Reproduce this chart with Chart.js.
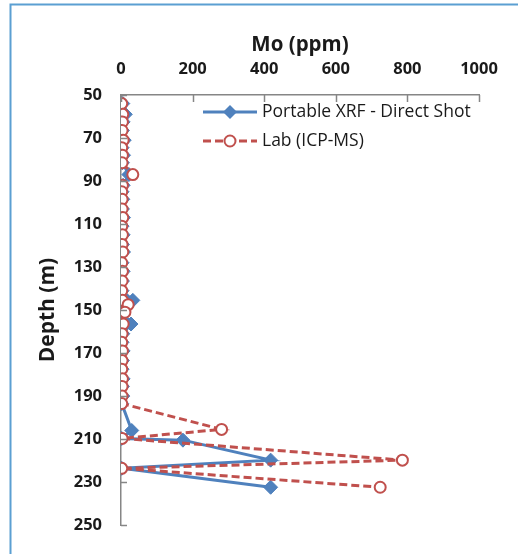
<!DOCTYPE html>
<html>
<head>
<meta charset="utf-8">
<script src="https://cdn.jsdelivr.net/npm/chart.js@4.4.1/dist/chart.umd.min.js"></script>
<style>
  html, body { margin: 0; padding: 0; background: #ffffff; }
  #wrap { position: relative; width: 518px; height: 554px; }
  canvas { display: block; }
</style>
</head>
<body>
<div id="wrap"><canvas id="c" width="518" height="554"></canvas></div>
<script>
// ---- Data ----
const xrfDepth = [54, 59, 62.5, 66.5, 71, 74.5, 78, 81.5, 87, 92, 95, 98.5, 103, 107, 111, 115, 119.5, 123, 128, 132, 136.5, 141, 145.5, 147.5, 151, 156.5, 161, 165, 169, 173.5, 177.5, 182, 185.5, 190, 193.5, 206, 209.7, 210.5, 219.8, 223.6, 232.4];
const xrfMo    = [5, 12, 6, 4, 9, 3, 7, 4, 22, 6, 3, 5, 4, 7, 3, 6, 4, 7, 3, 6, 4, 3, 33, 10, 6, 28, 5, 3, 6, 4, 3, 6, 4, 5, 2, 30, 2, 173, 418, 2, 418];
const labDepth = [54, 59, 62.5, 66.5, 71, 74.5, 78, 81.5, 87, 92, 95, 98.5, 103, 107, 111, 115, 119.5, 123, 128, 132, 136.5, 141, 145.5, 147.5, 151, 156.5, 161, 165, 169, 173.5, 177.5, 182, 185.5, 190, 193.5, 205.5, 209.7, 219.8, 223.6, 232.4];
const labMo    = [2, 5, 4, 3, 6, 2, 4, 3, 33, 4, 2, 3, 3, 5, 2, 4, 3, 5, 2, 4, 3, 2, 4, 20, 11, 6, 3, 2, 4, 3, 2, 4, 3, 3, 2, 281, 3, 786, 2, 724];
const seriesNames = ['Portable XRF - Direct Shot', 'Lab (ICP-MS)'];
const xTicks = [0, 200, 400, 600, 800, 1000];
const yTicks = [50, 70, 90, 110, 130, 150, 170, 190, 210, 230, 250];
const xTitle = 'Mo (ppm)';
const yTitle = 'Depth (m)';

const BLUE = '#4f81bd';
const RED = '#c0504d';
const AXIS = '#868686';
const TEXT = '#1a1a1a';
const FONT = "'Open Sans', 'DejaVu Sans', sans-serif";

const toPts = (xs, ys) => xs.map((v, i) => ({ x: v, y: ys[i] }));

const framePlugin = {
  id: 'frame',
  beforeDraw(chart) {
    const ctx = chart.ctx;
    ctx.save();
    ctx.fillStyle = '#ffffff';
    ctx.fillRect(0, 0, chart.width, chart.height);
    ctx.strokeStyle = '#5b9fd2';
    ctx.lineWidth = 2;
    ctx.beginPath();
    ctx.moveTo(10.5, chart.height);
    ctx.lineTo(10.5, 4.5);
    ctx.lineTo(chart.width, 4.5);
    ctx.stroke();
    ctx.restore();
  }
};

const inwardTicks = {
  id: 'inwardTicks',
  afterDraw(chart) {
    const ctx = chart.ctx;
    const xs = chart.scales.x, ys = chart.scales.y;
    const a = chart.chartArea;
    ctx.save();
    ctx.strokeStyle = AXIS;
    ctx.lineWidth = 1.5;
    ctx.beginPath();
    xTicks.forEach(v => {
      const px = Math.round(xs.getPixelForValue(v)) + 0.5;
      ctx.moveTo(px, a.top);
      ctx.lineTo(px, a.top + 7);
    });
    yTicks.forEach(v => {
      const py = Math.round(ys.getPixelForValue(v)) + 0.5;
      ctx.moveTo(a.left, py);
      ctx.lineTo(a.left + 6, py);
    });
    ctx.stroke();
    ctx.restore();
  }
};

const legendPlugin = {
  id: 'customLegend',
  afterDraw(chart) {
    const ctx = chart.ctx;
    ctx.save();
    const x0 = 203, x1 = 257, tx = 262;
    const rows = [112, 141];
    const cx = (x0 + x1) / 2, r = 7;
    // XRF
    ctx.strokeStyle = BLUE; ctx.lineWidth = 3; ctx.setLineDash([]);
    ctx.beginPath(); ctx.moveTo(x0, rows[0]); ctx.lineTo(x1, rows[0]); ctx.stroke();
    ctx.fillStyle = BLUE;
    ctx.beginPath();
    ctx.moveTo(cx, rows[0] - r); ctx.lineTo(cx + r, rows[0]); ctx.lineTo(cx, rows[0] + r); ctx.lineTo(cx - r, rows[0]); ctx.closePath(); ctx.fill();
    // Lab
    ctx.strokeStyle = RED; ctx.lineWidth = 3; ctx.setLineDash([8, 4]);
    ctx.beginPath(); ctx.moveTo(x0, rows[1]); ctx.lineTo(x1, rows[1]); ctx.stroke();
    ctx.setLineDash([]);
    ctx.fillStyle = '#ffffff'; ctx.lineWidth = 2;
    ctx.beginPath(); ctx.arc(cx, rows[1], 5.5, 0, Math.PI * 2); ctx.fill(); ctx.stroke();
    // text
    ctx.fillStyle = TEXT;
    ctx.font = "17.5px " + FONT;
    ctx.textBaseline = 'middle';
    ctx.textAlign = 'left';
    ctx.fillText(seriesNames[0], tx, rows[0]);
    ctx.fillText(seriesNames[1], tx, rows[1]);
    ctx.restore();
  }
};

new Chart(document.getElementById('c'), {
  type: 'scatter',
  data: {
    datasets: [
      {
        label: seriesNames[1],
        data: toPts(labMo, labDepth),
        showLine: true,
        borderColor: RED,
        borderWidth: 3,
        borderDash: [8, 4],
        pointStyle: 'circle',
        pointRadius: 5.5,
        pointBorderWidth: 2,
        pointBackgroundColor: '#ffffff',
        pointBorderColor: RED,
        order: 0
      },
      {
        label: seriesNames[0],
        data: toPts(xrfMo, xrfDepth),
        showLine: true,
        borderColor: BLUE,
        borderWidth: 3,
        pointStyle: 'rectRot',
        pointRadius: 7,
        pointBorderWidth: 1,
        pointBackgroundColor: BLUE,
        pointBorderColor: BLUE,
        order: 1
      }
    ]
  },
  options: {
    responsive: false,
    animation: false,
    devicePixelRatio: 1,
    layout: { padding: { left: 0, top: 0, right: 39, bottom: 27 } },
    plugins: {
      legend: { display: false },
      tooltip: { enabled: false }
    },
    scales: {
      x: {
        type: 'linear',
        position: 'top',
        min: 0, max: 1000,
        afterFit(s) { s.height = 95; },
        afterBuildTicks(s) { s.ticks = xTicks.map(v => ({ value: v })); },
        grid: { drawOnChartArea: false, drawTicks: false },
        border: { display: true, color: AXIS, width: 1.5 },
        ticks: { color: TEXT, font: { family: FONT, size: 16.5, weight: 'bold' }, padding: 16, maxRotation: 0, callback: v => String(v) },
        title: { display: true, text: xTitle, color: TEXT, font: { family: FONT, size: 20.5, weight: 'bold' }, padding: { top: 33, bottom: 0 } }
      },
      y: {
        type: 'linear',
        reverse: true,
        min: 50, max: 250,
        afterFit(s) { s.width = 121; },
        afterBuildTicks(s) { s.ticks = yTicks.map(v => ({ value: v })); },
        grid: { drawOnChartArea: false, drawTicks: false },
        border: { display: true, color: AXIS, width: 1.5 },
        ticks: { color: TEXT, font: { family: FONT, size: 16.5, weight: 'bold' }, padding: 19, callback: v => String(v) },
        title: { display: true, text: yTitle, color: TEXT, font: { family: FONT, size: 21, weight: 'bold' }, padding: { top: 35, bottom: 0 } }
      }
    }
  },
  plugins: [framePlugin, inwardTicks, legendPlugin]
});
</script>
</body>
</html>
